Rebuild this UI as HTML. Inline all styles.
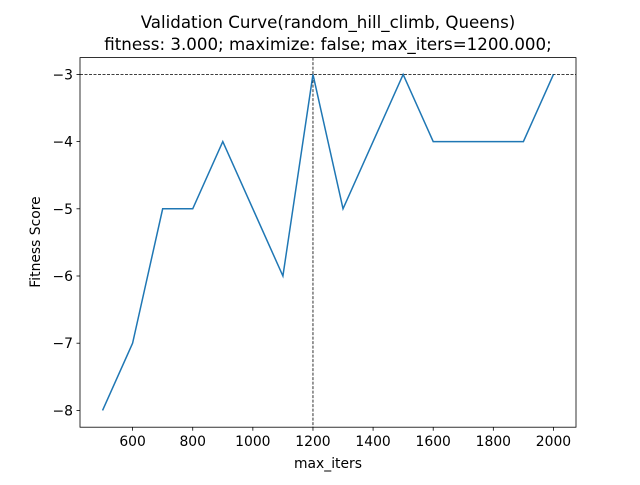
<!DOCTYPE html>
<html><head><meta charset="utf-8"><style>
body{margin:0;background:#fff;}
svg text{font-family:"DejaVu Sans","Liberation Sans",sans-serif;fill:#000;}
</style></head><body>
<svg id="chart" width="640" height="480" viewBox="0 0 640 480" xmlns="http://www.w3.org/2000/svg">
<rect width="640" height="480" fill="#fff"/>
<text x="328" y="28" font-size="16.67" text-anchor="middle">Validation Curve(random_hill_climb, Queens)</text>
<text x="328" y="50" font-size="16.67" text-anchor="middle">fitness: 3.000; maximize: false; max_iters=1200.000;</text>
<g id="plot"></g>
<text x="328" y="468" font-size="13.9" text-anchor="middle">max_iters</text>
<text transform="translate(40,242) rotate(-90)" font-size="13.9" text-anchor="middle">Fitness Score</text>
</svg>
<script>
const xValues=[500,600,700,800,900,1000,1100,1200,1300,1400,1500,1600,1700,1800,1900,2000];
const yValues=[-8,-7,-5,-5,-4,-5,-6,-3,-5,-4,-3,-4,-4,-4,-4,-3];
const xTicks=[600,800,1000,1200,1400,1600,1800,2000];
const yTicks=[-3,-4,-5,-6,-7,-8];
const bestX=1200, bestY=-3;
const L=80,R=576,T=57.6,B=427.2;
const xmin=425,xmax=2075,ymin=-8.25,ymax=-2.75;
const sx=v=>L+(v-xmin)/(xmax-xmin)*(R-L);
const sy=v=>B-(v-ymin)/(ymax-ymin)*(B-T);
const ns="http://www.w3.org/2000/svg";
const g=document.getElementById('plot');
function mk(t,a){const e=document.createElementNS(ns,t);for(const k in a)e.setAttribute(k,a[k]);g.appendChild(e);return e;}
let h=mk('line',{x1:L,x2:R,y1:sy(bestY),y2:sy(bestY),stroke:'#000','stroke-width':0.8,'stroke-dasharray':'3,1.5'});


let v=mk('line',{x1:sx(bestX),x2:sx(bestX),y1:T,y2:B,stroke:'#000','stroke-width':0.8,'stroke-dasharray':'3,1.5'});


let p=mk('polyline',{points:xValues.map((x,i)=>sx(x)+','+sy(yValues[i])).join(' '),fill:'none',stroke:'#1f77b4','stroke-width':1.5});


let f=mk('rect',{x:L,y:T,width:R-L,height:B-T,fill:'none',stroke:'#000','stroke-width':0.8});


xTicks.forEach(t=>{const x=sx(t);
 let l=mk('line',{x1:x,x2:x,y1:B,y2:B+3.5,stroke:'#000','stroke-width':0.8});
 
 
 let tx=mk('text',{x:x,y:B+19,'font-size':13.9,'text-anchor':'middle'});tx.textContent=t;
 
 });
yTicks.forEach(t=>{const y=sy(t);
 let l=mk('line',{x1:L-3.5,x2:L,y1:y,y2:y,stroke:'#000','stroke-width':0.8});
 
 
 let tx=mk('text',{x:L-7,y:y+5,'font-size':13.9,'text-anchor':'end'});tx.textContent='\u2212'+Math.abs(t);
 
 });
</script>
</body></html>
